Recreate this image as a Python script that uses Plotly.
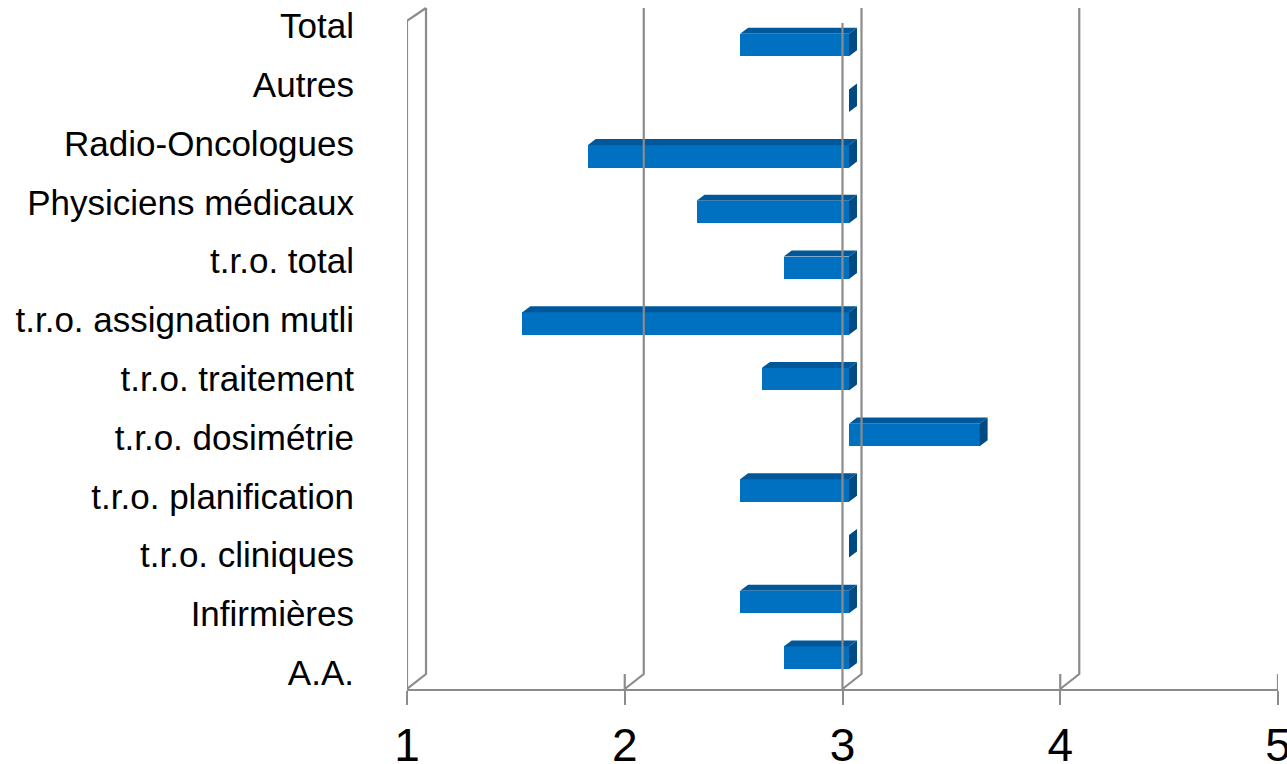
import plotly.graph_objects as go

# ---- data ----
categories = ["A.A.", "Infirmières", "t.r.o. cliniques", "t.r.o. planification",
              "t.r.o. dosimétrie", "t.r.o. traitement", "t.r.o. assignation mutli",
              "t.r.o. total", "Physiciens médicaux", "Radio-Oncologues", "Autres", "Total"]
values = [2.7, 2.5, 3.0, 2.5, 3.6, 2.6, 1.5, 2.7, 2.3, 1.8, 3.0, 2.5]
base_value = 3
x_ticks = [1, 2, 3, 4, 5]

# ---- style ----
FONT = "Liberation Sans, Arial, sans-serif"
FRONT = "#0070C0"
TOP = "#00589A"
SIDE = "#004B84"
GRID = "#8C8C8C"
BAR_W = 0.404      # bar thickness (category units)
DX = 0.0367        # 3D depth in x units (bars)
DY = 0.108         # 3D depth in category units (bars)
BACK_DX = 0.0873   # wall depth in x units
FLOOR_BACK = 0.022 # wall depth in paper units
TOP_FRONT = 0.981

idx = list(range(len(categories)))

fig = go.Figure()

# invisible trace to carry the category labels axis
fig.add_trace(go.Scatter(x=values, y=idx, mode="markers", marker=dict(opacity=0),
                         hoverinfo="skip", showlegend=False, xaxis="x", yaxis="y"))

# top and side faces
top_x, top_y, side_x, side_y = [], [], [], []
for i, v in zip(idx, values):
    xl, xr = min(v, base_value), max(v, base_value)
    yt, yb = i + BAR_W / 2, i - BAR_W / 2
    top_x += [xl, xl + DX, xr + DX, xr, xl, None]
    top_y += [yt, yt + DY, yt + DY, yt, yt, None]
    side_x += [xr, xr, xr + DX, xr + DX, xr, None]
    side_y += [yb, yt, yt + DY, yb + DY, yb, None]

fig.add_trace(go.Scatter(x=top_x, y=top_y, fill="toself", fillcolor=TOP, mode="lines",
                         line=dict(width=0, color=TOP), hoverinfo="skip", showlegend=False,
                         xaxis="x2", yaxis="y2"))
fig.add_trace(go.Scatter(x=side_x, y=side_y, fill="toself", fillcolor=SIDE, mode="lines",
                         line=dict(width=0, color=SIDE), hoverinfo="skip", showlegend=False,
                         xaxis="x2", yaxis="y2"))

# front faces
fig.add_trace(go.Bar(y=idx, x=[v - base_value for v in values], base=base_value,
                     orientation="h", width=BAR_W, marker=dict(color=FRONT, line=dict(width=0)),
                     showlegend=False, xaxis="x2", yaxis="y2"))

# 3D frame (walls / gridlines) above bars
LW = 2.2
shapes = []
for t in x_ticks:
    shapes.append(dict(type="path", xref="x", yref="paper", layer="above",
                       path=f"M {t},0 L {t + BACK_DX},{FLOOR_BACK} L {t + BACK_DX},1",
                       line=dict(color=GRID, width=LW)))
    if t not in (x_ticks[0], base_value):
        shapes.append(dict(type="path", xref="x", yref="paper", layer="above",
                           path=f"M {t},0 L {t},{FLOOR_BACK}",
                           line=dict(color=GRID, width=LW)))
shapes.append(dict(type="path", xref="x", yref="paper", layer="above",
                   path=f"M {x_ticks[0]},0 L {x_ticks[0]},{TOP_FRONT} L {x_ticks[0] + BACK_DX},1",
                   line=dict(color=GRID, width=LW)))
shapes.append(dict(type="path", xref="x", yref="paper", layer="above",
                   path=f"M {base_value},0 L {base_value},{TOP_FRONT - 0.003}",
                   line=dict(color=GRID, width=LW)))

fig.update_layout(
    width=1287, height=764,
    margin=dict(l=407, r=9, t=8, b=75, autoexpand=False),
    paper_bgcolor="white", plot_bgcolor="white",
    showlegend=False,
    shapes=shapes,
    xaxis=dict(range=[1, 5], tickvals=x_ticks, showgrid=False, zeroline=False,
               showline=True, linecolor=GRID, linewidth=LW,
               ticks="outside", ticklen=14, tickwidth=LW, tickcolor=GRID,
               tickfont=dict(family=FONT, size=46, color="black"),
               ticklabelstandoff=1, automargin=False, ticklabeloverflow="allow"),
    yaxis=dict(range=[-0.276, 11.306], tickvals=idx, ticktext=categories,
               showgrid=False, zeroline=False, showline=False, ticks="",
               tickfont=dict(family=FONT, size=35, color="black"),
               ticklabelstandoff=52, automargin=False),
    xaxis2=dict(overlaying="x", anchor="y2", range=[0.97015, 4.97015], visible=False),
    yaxis2=dict(overlaying="y", anchor="x2", range=[-0.562, 11.664], visible=False),
    bargap=0,
)

fig.write_html("out.html")
